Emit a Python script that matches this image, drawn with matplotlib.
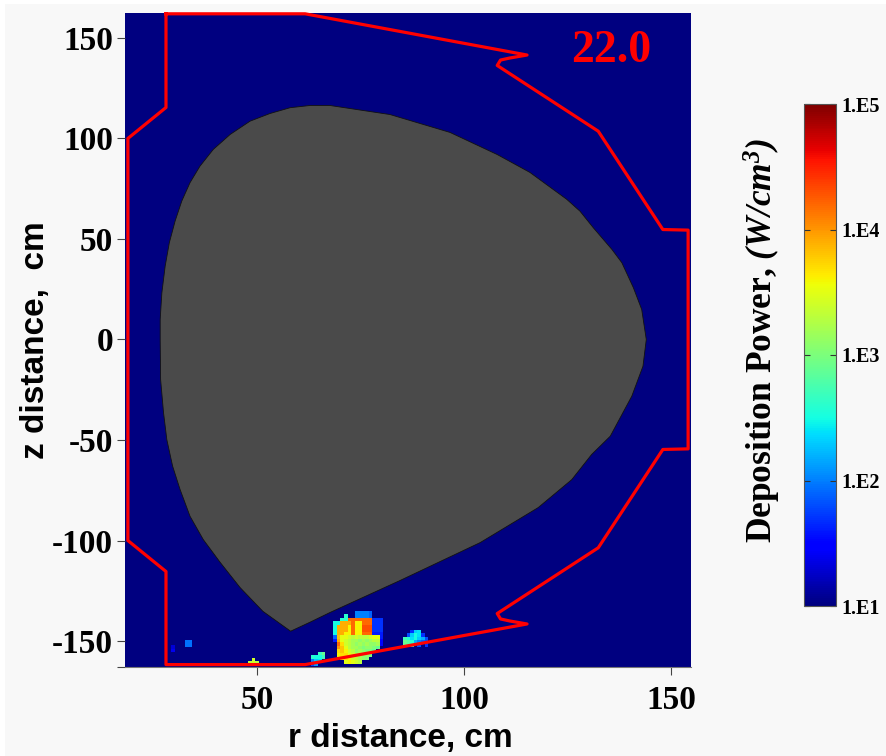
import numpy as np
import matplotlib
matplotlib.use("Agg")
import matplotlib.pyplot as plt
from matplotlib.patches import Polygon, Rectangle
from matplotlib.colors import Normalize

SERIF = "Liberation Serif"
SANS = "Liberation Sans"
_ = np.nan

plt.rcParams["mathtext.fontset"] = "custom"
plt.rcParams["mathtext.rm"] = "Liberation Serif:bold"
plt.rcParams["mathtext.bf"] = "Liberation Serif:bold"
plt.rcParams["mathtext.it"] = "Liberation Serif:italic:bold"
plt.rcParams["mathtext.bfit"] = "Liberation Serif:italic:bold"

# chamber wall, r and z in cm
wall_r = [28.0, 28.0, 18.8, 18.8, 28.0, 28.0, 61.6, 115.2, 111.0, 108.8, 108.0, 132.4,
          148.0, 154.1, 154.1, 148.0, 132.4, 108.0, 108.8, 111.0, 115.2, 61.6, 28.0]
wall_z = [162.0, 115.4, 100.0, -100.0, -115.4, -161.7, -161.7, -141.5, -140.0, -139.0, -136.3, -103.6,
          -54.7, -54.4, 54.4, 54.7, 103.6, 136.3, 139.0, 140.0, 141.5, 162.0, 162.0]

# plasma outline, r and z in cm
plasma_r = [62.8, 67.6, 82.1, 96.6, 108.0, 115.9, 124.8, 128.0, 131.2, 135.7, 138.1, 140.9,
            142.9, 144.0, 143.2, 140.5, 135.3, 130.8, 126.0, 117.9, 103.9, 84.5, 67.6, 62.8,
            58.1, 51.4, 45.9, 41.1, 37.0, 33.8, 31.4, 29.6, 28.2, 27.4, 26.7, 26.6,
            26.6, 27.0, 27.8, 28.8, 30.2, 31.8, 33.8, 36.2, 39.4, 43.5, 48.3, 53.1, 58.0]
plasma_z = [116.4, 116.4, 111.9, 103.0, 92.0, 83.1, 69.7, 63.8, 55.6, 44.8, 38.2, 25.7,
            14.9, 0.0, -13.3, -28.2, -48.1, -57.2, -69.7, -83.6, -101.0, -119.9, -135.8, -140.6,
            -145.1, -135.2, -123.4, -110.9, -99.5, -87.9, -74.6, -63.0, -49.8, -36.3, -19.9, 0.0,
            10.0, 23.2, 36.5, 48.1, 58.9, 68.8, 78.0, 86.2, 94.5, 102.0, 108.6, 112.4, 115.3]

# deposition spots, log10 of W/cm3, rows run from top to bottom
dr = 0.86
dz = 1.76

main_spot = np.array([
    [_, _, _, _, _, _, 2.0, 2.0, 2.0, 2.0, 1.9, _, _, _, _],
    [_, _, _, 2.6, _, _, 2.0, 2.0, 2.0, 2.0, 1.9, _, _, _, _],
    [_, _, 2.6, 2.6, 4.2, 4.2, 4.2, 4.2, 4.2, 4.2, 4.2, 1.7, 1.7, 1.7, _],
    [2.5, 2.5, 3.9, 3.9, 3.9, 4.2, 3.6, 3.6, 4.2, 4.2, 4.2, 1.7, 1.7, 1.7, _],
    [2.5, 3.9, 3.9, 3.9, 3.6, 4.2, 3.6, 3.6, 4.3, 4.3, 4.3, 1.7, 1.7, 1.7, _],
    [2.5, 3.9, 3.9, 3.9, 3.6, 4.2, 3.6, 3.6, 4.3, 4.3, 4.3, 1.7, 1.7, 1.7, _],
    [2.5, 3.9, 3.9, 3.6, 3.6, 4.2, 3.6, 3.6, 4.2, 4.2, 4.2, 1.6, 1.6, 1.6, _],
    [1.9, 3.8, 3.5, 3.5, 3.4, 3.3, 3.4, 3.3, 3.3, 3.3, 3.4, 3.5, 3.5, 1.6, _],
    [1.6, 3.9, 3.5, 3.4, 3.3, 3.2, 3.2, 3.1, 3.2, 3.1, 3.2, 3.3, 3.3, 1.5, _],
    [_, 4.2, 3.7, 3.4, 3.3, 3.2, 3.1, 3.2, 3.1, 3.2, 3.1, 3.1, 3.2, 1.5, _],
    [_, 4.0, 3.8, 3.5, 3.3, 3.2, 3.2, 3.1, 3.0, 3.1, 3.1, 3.0, 2.9, _, _],
    [_, 3.7, 3.8, 3.6, 3.4, 3.3, 3.1, 3.2, 3.1, 3.0, 3.0, 2.9, _, _, _],
    [_, 3.6, 3.7, 3.7, 3.5, 3.4, 3.3, 3.2, 3.1, 3.1, 3.0, _, _, _, _],
    [_, _, 3.6, 3.7, 3.6, 3.4, 3.3, 3.2, 3.1, 3.0, _, _, _, _, _],
    [_, _, _, 3.5, 3.6, 3.5, 3.4, 3.3, _, _, _, _, _, _, _],
])
right_spot = np.array([
    [_, _, 1.7, 2.3, 2.4, _, _],
    [_, 1.8, 2.3, 2.5, 2.4, 1.7, _],
    [2.7, 2.6, 2.4, 2.5, 2.3, 2.2, 1.8],
    [2.9, 2.8, 2.6, 2.2, 2.0, 1.9, 1.8],
    [2.9, 2.8, 2.7, _, 1.8, _, 1.7],
])
small_spot = np.array([
    [_, _, 2.7, 2.9],
    [2.6, 2.5, 2.5, 2.7],
    [2.0, 2.3, 2.4, _],
    [1.8, 2.1, _, _],
])
floor_spot = np.array([
    [_, 3.4, _],
    [3.3, 3.4, 3.3],
])
blue_spot = np.array([
    [1.95, 1.95],
    [1.95, 1.95],
])
dark_spot = np.array([
    [1.3],
    [1.4],
])

# top left corner of each spot, r and z in cm
spots = [(main_spot, 68.4, -134.8), (right_spot, 85.3, -144.3), (small_spot, 63.0, -155.2),
         (floor_spot, 47.8, -158.2), (blue_spot, 32.6, -149.3), (dark_spot, 29.2, -152.0)]

x_ticks = [50, 100, 150]
y_ticks = [150, 100, 50, 0, -50, -100, -150]
bar_ticks = [1, 2, 3, 4, 5]
bar_labels = ["1.E1", "1.E2", "1.E3", "1.E4", "1.E5"]

W, H = 887.0, 756.0
fig = plt.figure(figsize=(8.87, 7.56), dpi=100, facecolor="white")
# pale page with a thin white strip along the left and top
fig.add_artist(Rectangle((5 / W, 0), 1, 1 - 4 / H, transform=fig.transFigure, facecolor="#f8f8f8",
                         edgecolor="none", zorder=-1))
ax = fig.add_axes([125 / W, 1 - 667 / H, 566 / W, 654 / H])
ax.set_xlim(18.1, 154.8)
ax.set_ylim(-162.9, 162.4)
cmap = plt.get_cmap("jet")
norm = Normalize(1, 5)
ax.set_facecolor(cmap(0.0))

for vals, r0, z0 in spots:
    rows, cols = vals.shape
    mesh = ax.pcolormesh(r0 + dr * np.arange(cols + 1), z0 - dz * np.arange(rows + 1),
                         np.ma.masked_invalid(vals), cmap=cmap, norm=norm, zorder=2)

ax.add_patch(Polygon(np.column_stack([plasma_r, plasma_z]), closed=True, facecolor="#4a4a4a",
                     edgecolor="#111111", linewidth=0.6, zorder=3))
ax.plot(wall_r, wall_z, color="#ff0000", linewidth=2.3, solid_joinstyle="round", zorder=4, clip_on=False)
ax.text(135.5, 143.5, "22.0", color="#ff0000", family=SERIF, weight="bold", fontsize=33,
        ha="center", va="center", zorder=5)

for side in ["top", "right", "left"]:
    ax.spines[side].set_visible(False)
ax.spines["bottom"].set_color("#777777")
ax.spines["bottom"].set_linewidth(0.8)

ax.set_xticks(x_ticks)
ax.set_yticks(y_ticks + [-162.9])
ax.set_yticklabels([str(t) for t in y_ticks] + [""])
ax.tick_params(axis="both", length=6, width=0.8, color="#444444")
ax.tick_params(axis="y", pad=2.5)
ax.tick_params(axis="x", pad=7)
for lab in ax.get_xticklabels() + ax.get_yticklabels():
    lab.set_family(SERIF)
    lab.set_weight("bold")
    lab.set_fontsize(24)

fig.text(400 / W, 1 - 738 / H, "r distance, cm", family=SANS, weight="bold", fontsize=24,
         ha="center", va="center")
fig.text(36 / W, 1 - 340 / H, "z distance,  cm", family=SANS, weight="bold", fontsize=24,
         rotation=90, ha="center", va="center")

cax = fig.add_axes([804 / W, 1 - 606 / H, 32 / W, 502 / H])
bar = fig.colorbar(plt.cm.ScalarMappable(norm=norm, cmap=cmap), cax=cax)
bar.set_ticks(bar_ticks)
bar.set_ticklabels(bar_labels)
bar.outline.set_edgecolor("#555555")
bar.outline.set_linewidth(0.8)
cax.tick_params(axis="y", direction="in", length=4, width=0.8, left=True, right=True,
                color="#333333", pad=4)
for lab in cax.get_yticklabels():
    lab.set_family(SERIF)
    lab.set_weight("bold")
    lab.set_fontsize(14.5)

fig.text(762 / W, 1 - 340 / H, r"Deposition Power, $\mathbfit{(W/cm^3)}$", family=SERIF, weight="bold",
         fontsize=25.5, rotation=90, ha="center", va="center")

fig.savefig("out.png", dpi=100, facecolor=fig.get_facecolor())
